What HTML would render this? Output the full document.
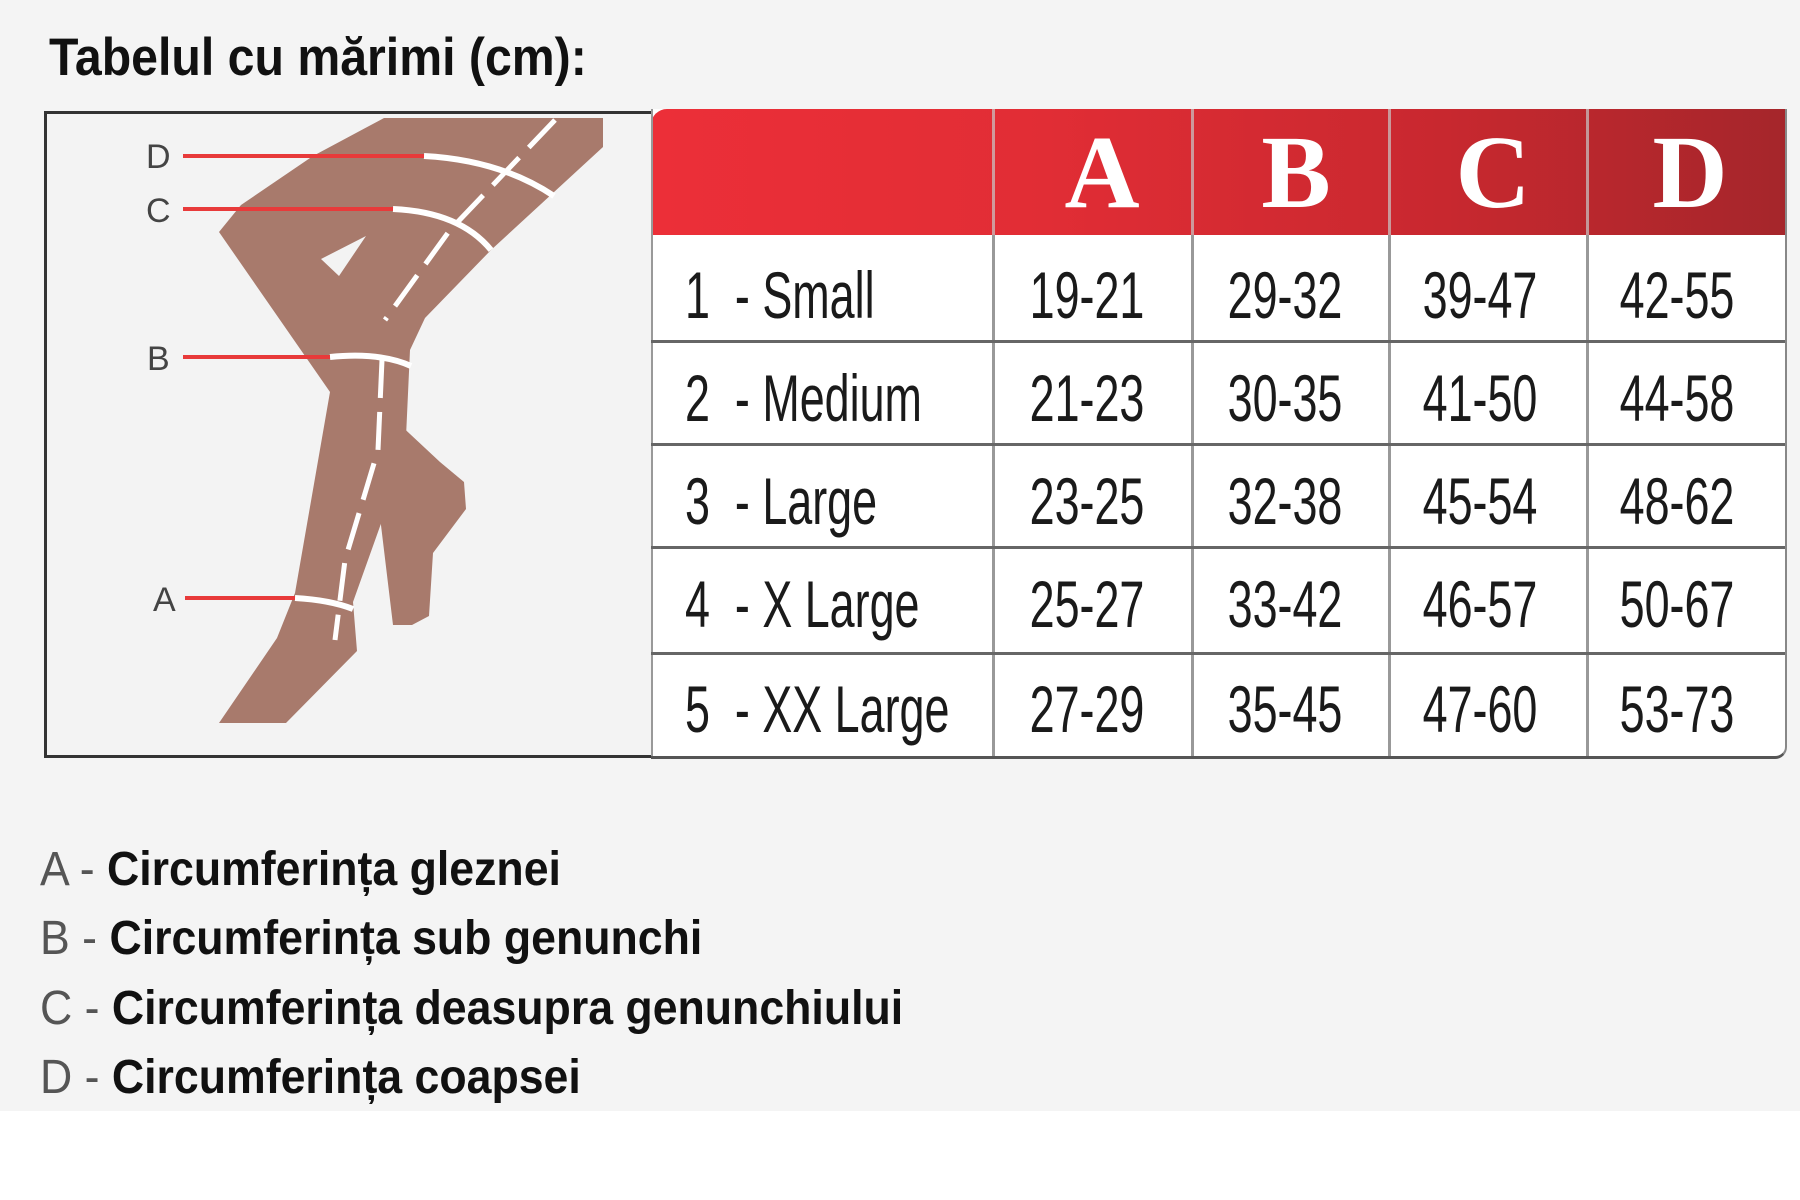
<!DOCTYPE html>
<html><head><meta charset="utf-8"><style>
html,body{margin:0;padding:0}
body{width:1800px;height:1200px;background:#fff;position:relative;overflow:hidden;font-family:"Liberation Sans",Arial,sans-serif}
#bg{position:absolute;left:0;top:0;width:1800px;height:1111px;background:#f4f4f4}
.t{position:absolute;white-space:nowrap;transform-origin:0 50%}
#title{left:49px;top:28px;font-size:53px;font-weight:bold;color:#111;transform:scaleX(0.91);line-height:60px}
#leftbox{position:absolute;left:44px;top:111px;width:604px;height:641px;border-left:3px solid #333;border-top:3px solid #333;border-bottom:3px solid #333;background:#f3f3f3}
#table{position:absolute;left:651px;top:109px;width:1134px;height:647px;background:#fff;border-bottom:3px solid #555;border-right:2px solid #888;border-bottom-right-radius:12px;overflow:hidden}
#head{position:absolute;left:0;top:0;width:1134px;height:126px;background:linear-gradient(90deg,#ec2f38 0%,#e12d35 35%,#c8282f 70%,#a5262b 100%);border-top-left-radius:16px}
.vl{position:absolute;top:0;width:3px;height:647px;background:#999}
.vlh{position:absolute;top:0;width:3px;height:126px;background:#c8c8c8;opacity:.7}
.hl{position:absolute;left:0;width:1134px;height:3px;background:#666}
.hd{position:absolute;top:4px;font-family:"Liberation Serif",serif;font-weight:bold;font-size:104px;color:#fff;width:198px;text-align:center;line-height:120px}
.cell{position:absolute;font-size:66px;color:#1a1a1a;white-space:nowrap;line-height:105px;transform:scaleX(0.68);transform-origin:50% 50%;width:198px;text-align:center}
.lab{position:absolute;left:34px;font-size:66px;color:#1a1a1a;white-space:nowrap;line-height:105px;transform:scaleX(0.68);transform-origin:0 50%}
.lg{position:absolute;left:40px;font-size:48px;font-weight:bold;white-space:nowrap;transform:scaleX(0.93);transform-origin:0 50%;line-height:56px;color:#111}
.lg span{color:#555;font-weight:normal}
</style></head><body>
<div id="bg"></div>
<div id="title" class="t">Tabelul cu mărimi (cm):</div>
<div id="leftbox"></div>
<svg style="position:absolute;left:0;top:0" width="660" height="760" viewBox="0 0 660 760">
 <g fill="#a87a6c">
  <polygon points="384,118 603,118 603,147 491,250 425,318 410,350 406,437 388,504 353,602 357,651 286,723 219,723 277,638 295,593 330,392 219,232 241,205 313,156"/>
  <polygon points="395,420 440,462 464,482 466,509 433,553 429,616 412,625 393,625 380,517 390,440"/>
 </g>
 <polygon points="321,259 366,236 339,276" fill="#f3f3f3"/>
 <g fill="none" stroke="#fff" stroke-width="6">
  <path d="M424,156 Q500,160 554,196"/>
  <path d="M393,209 Q460,212 491,250"/>
  <path d="M330,357 Q380,352 411,366"/>
  <path d="M295,598 Q330,600 353,609"/>
 </g>
 <g fill="none" stroke="#fff" stroke-width="5" stroke-dasharray="38,14">
  <path d="M555,120 L450,230 L385,320"/>
  <path d="M382,360 L378,450 L345,560 L335,640"/>
 </g>
 <g stroke="#e83a3a" stroke-width="4">
  <line x1="183" y1="156" x2="424" y2="156"/>
  <line x1="183" y1="209" x2="393" y2="209"/>
  <line x1="183" y1="357" x2="330" y2="357"/>
  <line x1="185" y1="598" x2="295" y2="598"/>
 </g>
 <g font-family="Liberation Sans,sans-serif" font-size="34" fill="#444">
  <text x="146" y="168">D</text>
  <text x="146" y="222">C</text>
  <text x="147" y="370">B</text>
  <text x="153" y="611">A</text>
 </g>
</svg>
<div id="table">
 <div id="head"></div>
 <div class="vlh" style="left:341px"></div><div class="vlh" style="left:540px"></div><div class="vlh" style="left:737px"></div><div class="vlh" style="left:935px"></div>
 <div class="vl" style="left:0;width:2px"></div>
 <div class="vl" style="left:341px;top:126px"></div><div class="vl" style="left:540px;top:126px"></div><div class="vl" style="left:737px;top:126px"></div><div class="vl" style="left:935px;top:126px"></div>
 <div class="hl" style="top:231px"></div><div class="hl" style="top:334px"></div><div class="hl" style="top:437px"></div><div class="hl" style="top:543px"></div>
 <div class="hd" style="left:352px">A</div><div class="hd" style="left:546px">B</div><div class="hd" style="left:743px">C</div><div class="hd" style="left:940px">D</div>

 <div class="lab" style="top:134px">1&nbsp; - Small</div>
 <div class="lab" style="top:237px">2&nbsp; - Medium</div>
 <div class="lab" style="top:340px">3&nbsp; - Large</div>
 <div class="lab" style="top:443px">4&nbsp; - X Large</div>
 <div class="lab" style="top:548px">5&nbsp; - XX Large</div>

 <div class="cell" style="left:337px;top:134px">19-21</div><div class="cell" style="left:535px;top:134px">29-32</div><div class="cell" style="left:730px;top:134px">39-47</div><div class="cell" style="left:927px;top:134px">42-55</div>
 <div class="cell" style="left:337px;top:237px">21-23</div><div class="cell" style="left:535px;top:237px">30-35</div><div class="cell" style="left:730px;top:237px">41-50</div><div class="cell" style="left:927px;top:237px">44-58</div>
 <div class="cell" style="left:337px;top:340px">23-25</div><div class="cell" style="left:535px;top:340px">32-38</div><div class="cell" style="left:730px;top:340px">45-54</div><div class="cell" style="left:927px;top:340px">48-62</div>
 <div class="cell" style="left:337px;top:443px">25-27</div><div class="cell" style="left:535px;top:443px">33-42</div><div class="cell" style="left:730px;top:443px">46-57</div><div class="cell" style="left:927px;top:443px">50-67</div>
 <div class="cell" style="left:337px;top:548px">27-29</div><div class="cell" style="left:535px;top:548px">35-45</div><div class="cell" style="left:730px;top:548px">47-60</div><div class="cell" style="left:927px;top:548px">53-73</div>
</div>
<div class="lg" style="top:842px"><span>A -</span> Circumferința gleznei</div>
<div class="lg" style="top:911px"><span>B -</span> Circumferința sub genunchi</div>
<div class="lg" style="top:981px"><span>C -</span> Circumferința deasupra genunchiului</div>
<div class="lg" style="top:1050px"><span>D -</span> Circumferința coapsei</div>
</body></html>
